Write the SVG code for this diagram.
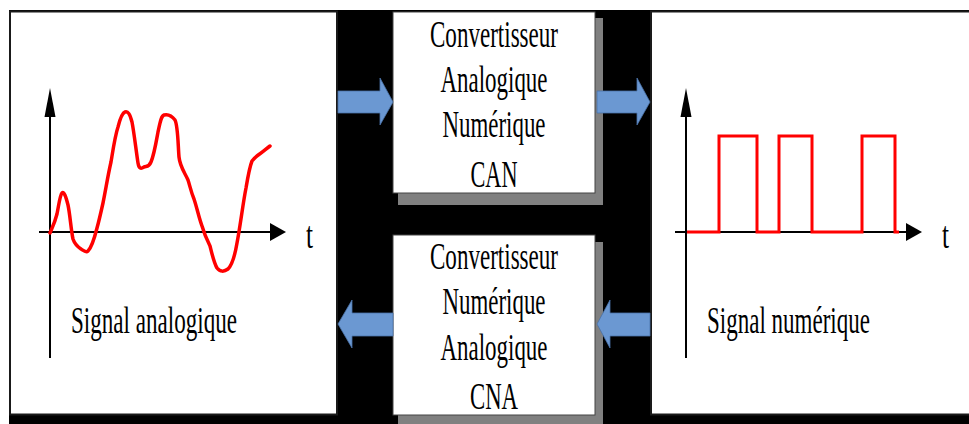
<svg xmlns="http://www.w3.org/2000/svg" width="969" height="424" viewBox="0 0 969 424">
<style>
.panel{fill:#fff;stroke:#1a1a1a;stroke-width:2}
.box{fill:#fff;stroke:#444;stroke-width:1}
.shadow{fill:#808080}
.axis{stroke:#000;stroke-width:2;fill:none}
.head{fill:#000}
.sig{stroke:#f00;stroke-width:3.5;fill:none;stroke-linejoin:round;stroke-linecap:round}
.sq{stroke:#f00;stroke-width:3;fill:none}
.txt{font-family:"Liberation Serif","Times New Roman",serif;font-size:38px;fill:#000}
.arr{fill:#6b98d2;stroke:#4a72a8;stroke-width:0.8}
</style>
<rect x="0" y="0" width="969" height="424" fill="#fff"/>
<rect x="9" y="10" width="960" height="414" fill="#000"/>

<g id="panel-analog">
<rect class="panel" x="10" y="11.5" width="327" height="403"/>
<line class="axis" x1="50" y1="110" x2="50" y2="358"/>
<polygon class="head" points="50,88 55.5,117 44.5,117"/>
<line class="axis" x1="39" y1="232" x2="272" y2="232"/>
<polygon class="head" points="286,232 270,223 270,241"/>
<path class="sig" d="M50,233 C53,226 55,222 57,214 C59,204 60,195 62,193 C64,191 66,197 68,205 C70,214 71,230 73,239 C75,245 78,247 81,249 C84,251 86,253 88,251 C91,248 94,240 97,228 C99,221 101,212 103,203 C106,188 108,175 111,162 C113,150 115,136 118,127 C120,119 122,113 125,112 C128,111 130,114 132,122 C134,132 136,150 138,163 C139,169 141,169 144,167 C147,166 149,167 151,162 C154,155 156,143 158,132 C160,123 161,116 164,115 C168,114 172,116 175,120 C178,126 178,145 179,157 C180,167 185,173 188,180 C190,186 191,192 194,199 C197,208 199,218 202,226 C204,233 207,240 210,246 C212,254 214,263 217,268 C220,272 224,272 228,269 C232,265 235,255 237,243 C240,228 243,203 246,188 C248,176 250,166 252,161 C255,157 258,155 261,153 C264,151 266,149 270,146"/>
<text class="txt" x="71" y="333" textLength="166" lengthAdjust="spacingAndGlyphs">Signal analogique</text>
<text class="txt" x="306" y="248" textLength="7" lengthAdjust="spacingAndGlyphs">t</text>
</g>

<g id="can">
<rect class="shadow" x="398" y="18" width="205" height="187"/>
<rect class="box" x="393" y="12" width="202" height="181"/>
<text class="txt" text-anchor="middle" x="494" y="47" textLength="128" lengthAdjust="spacingAndGlyphs">Convertisseur</text>
<text class="txt" text-anchor="middle" x="494" y="92" textLength="107" lengthAdjust="spacingAndGlyphs">Analogique</text>
<text class="txt" text-anchor="middle" x="494" y="137" textLength="103" lengthAdjust="spacingAndGlyphs">Numérique</text>
<text class="txt" text-anchor="middle" x="494" y="187" textLength="47" lengthAdjust="spacingAndGlyphs">CAN</text>
</g>

<g id="cna">
<rect class="shadow" x="398" y="242" width="205" height="182"/>
<rect class="box" x="393" y="235" width="202" height="180"/>
<text class="txt" text-anchor="middle" x="494" y="269" textLength="128" lengthAdjust="spacingAndGlyphs">Convertisseur</text>
<text class="txt" text-anchor="middle" x="494" y="314" textLength="103" lengthAdjust="spacingAndGlyphs">Numérique</text>
<text class="txt" text-anchor="middle" x="494" y="360" textLength="107" lengthAdjust="spacingAndGlyphs">Analogique</text>
<text class="txt" text-anchor="middle" x="494" y="409" textLength="48" lengthAdjust="spacingAndGlyphs">CNA</text>
</g>

<g id="panel-digital">
<rect class="panel" x="651" y="11.5" width="330" height="403"/>
<line class="axis" x1="686" y1="110" x2="686" y2="358"/>
<polygon class="head" points="686,88 691.5,117 680.5,117"/>
<line class="axis" x1="675" y1="232" x2="909" y2="232"/>
<polygon class="head" points="922,232 906,223 906,241"/>
<polyline class="sq" points="687,232 719,232 719,136 757,136 757,232 779,232 779,136 812,136 812,232 862,232 862,136 895,136 895,232 899,232"/>
<text class="txt" x="707" y="333" textLength="163" lengthAdjust="spacingAndGlyphs">Signal numérique</text>
<text class="txt" x="942" y="248" textLength="7" lengthAdjust="spacingAndGlyphs">t</text>
</g>

<g id="connectors">
<path class="arr" d="M338,91 H380 V78 L393,102 L380,125 V113 H338 Z"/>
<path class="arr" d="M597,91 H637 V78 L650,102 L637,125 V113 H597 Z"/>
<path class="arr" d="M393,313 H352 V300 L338,324 L352,348 V336 H393 Z"/>
<path class="arr" d="M650,313 H610 V300 L597,324 L610,348 V336 H650 Z"/>
</g>
</svg>
